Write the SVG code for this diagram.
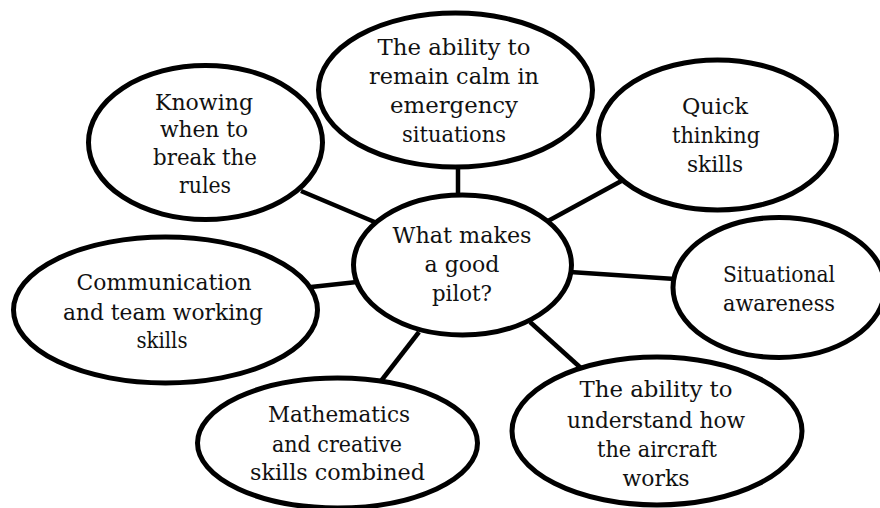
<svg xmlns="http://www.w3.org/2000/svg" width="880" height="508" viewBox="0 0 880 508">
<style>
.n{fill:#fff;stroke:#000;stroke-width:5}
.c{stroke:#000;stroke-width:4.5;fill:none}
.t text{font-family:'DejaVu Serif','Liberation Serif',serif;font-size:23px;fill:#111;text-anchor:middle}
</style>
<rect width="880" height="508" fill="#fff"/>
<g id="connectors">
<line class="c" x1="458" y1="164" x2="458" y2="198"/>
<line class="c" x1="301" y1="191" x2="377" y2="223"/>
<line class="c" x1="625" y1="179" x2="548" y2="221"/>
<line class="c" x1="570" y1="272" x2="675" y2="279"/>
<line class="c" x1="530" y1="322" x2="582" y2="369"/>
<line class="c" x1="419" y1="332" x2="381" y2="381"/>
<line class="c" x1="311" y1="287" x2="357" y2="282"/>
</g>
<g id="center" class="t">
<ellipse class="n" cx="462.5" cy="265" rx="109" ry="70"/>
<text x="462" y="243" textLength="139" lengthAdjust="spacingAndGlyphs">What makes</text>
<text x="462" y="272" textLength="75" lengthAdjust="spacingAndGlyphs">a good</text>
<text x="462" y="301" textLength="60" lengthAdjust="spacingAndGlyphs">pilot?</text>
</g>
<g id="calm" class="t">
<ellipse class="n" cx="455.5" cy="90" rx="137" ry="77"/>
<text x="454" y="55" textLength="153" lengthAdjust="spacingAndGlyphs">The ability to</text>
<text x="454" y="84" textLength="170" lengthAdjust="spacingAndGlyphs">remain calm in</text>
<text x="454" y="113" textLength="128" lengthAdjust="spacingAndGlyphs">emergency</text>
<text x="454" y="142" textLength="104" lengthAdjust="spacingAndGlyphs">situations</text>
</g>
<g id="rules" class="t">
<ellipse class="n" cx="205.5" cy="142.5" rx="117" ry="77"/>
<text x="204" y="110" textLength="98" lengthAdjust="spacingAndGlyphs">Knowing</text>
<text x="204" y="137" textLength="88" lengthAdjust="spacingAndGlyphs">when to</text>
<text x="205" y="165" textLength="104" lengthAdjust="spacingAndGlyphs">break the</text>
<text x="205" y="193" textLength="52" lengthAdjust="spacingAndGlyphs">rules</text>
</g>
<g id="quick" class="t">
<ellipse class="n" cx="717.5" cy="135" rx="119" ry="75"/>
<text x="715" y="114" textLength="66" lengthAdjust="spacingAndGlyphs">Quick</text>
<text x="716" y="143" textLength="88" lengthAdjust="spacingAndGlyphs">thinking</text>
<text x="715" y="172" textLength="56" lengthAdjust="spacingAndGlyphs">skills</text>
</g>
<g id="situational" class="t">
<ellipse class="n" cx="779" cy="287.5" rx="106" ry="70"/>
<text x="779" y="282" textLength="112" lengthAdjust="spacingAndGlyphs">Situational</text>
<text x="779" y="311" textLength="112" lengthAdjust="spacingAndGlyphs">awareness</text>
</g>
<g id="aircraft" class="t">
<ellipse class="n" cx="657" cy="431" rx="145" ry="74"/>
<text x="656" y="397" textLength="153" lengthAdjust="spacingAndGlyphs">The ability to</text>
<text x="656" y="428" textLength="178" lengthAdjust="spacingAndGlyphs">understand how</text>
<text x="657" y="457" textLength="120" lengthAdjust="spacingAndGlyphs">the aircraft</text>
<text x="656" y="486" textLength="67" lengthAdjust="spacingAndGlyphs">works</text>
</g>
<g id="communication" class="t">
<ellipse class="n" cx="165.5" cy="310" rx="152" ry="73"/>
<text x="164" y="290" textLength="175" lengthAdjust="spacingAndGlyphs">Communication</text>
<text x="163" y="320" textLength="200" lengthAdjust="spacingAndGlyphs">and team working</text>
<text x="162" y="348" textLength="51" lengthAdjust="spacingAndGlyphs">skills</text>
</g>
<g id="mathematics" class="t">
<ellipse class="n" cx="337.5" cy="443" rx="140" ry="65"/>
<text x="339" y="422" textLength="142" lengthAdjust="spacingAndGlyphs">Mathematics</text>
<text x="337" y="452" textLength="130" lengthAdjust="spacingAndGlyphs">and creative</text>
<text x="337.5" y="480" textLength="175" lengthAdjust="spacingAndGlyphs">skills  combined</text>
</g>
</svg>
